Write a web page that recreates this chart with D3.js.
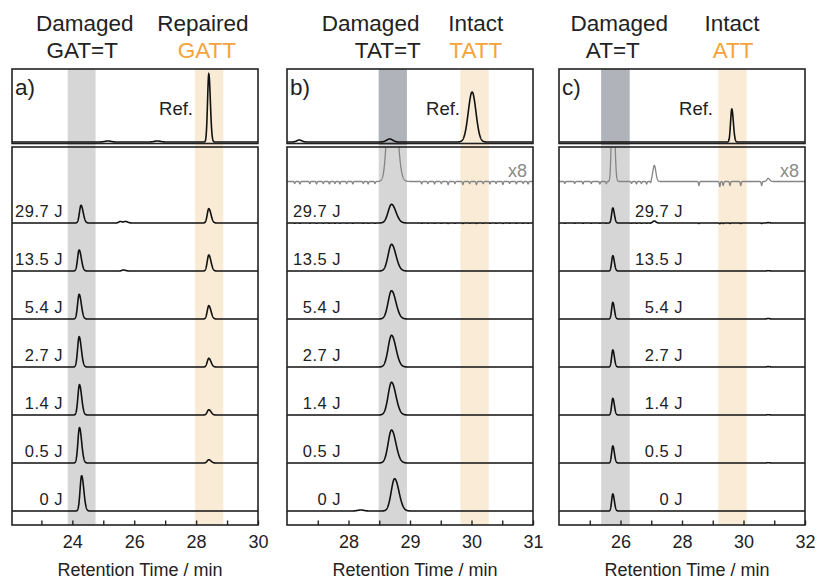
<!DOCTYPE html>
<html>
<head>
<meta charset="utf-8">
<script src="https://cdn.jsdelivr.net/npm/d3@7"></script>
<style>
body { margin: 0; background: #fff; }
text { font-family: Arial, "Liberation Sans", Helvetica, sans-serif; }
</style>
</head>
<body>
<div id="chart"></div>
<script>
var width = 819, height = 580;

// irradiation doses, top row to bottom row
var doses = ['29.7 J', '13.5 J', '5.4 J', '2.7 J', '1.4 J', '0.5 J', '0 J'];

var headTop = [['Damaged', 'Repaired'], ['Damaged', 'Intact'], ['Damaged', 'Intact']];
var headSeq = [['GAT=T', 'GATT'], ['TAT=T', 'TATT'], ['AT=T', 'ATT']];
var panelLetters = ['a)', 'b)', 'c)'];

// panel a : GAT=T -> GATT
var aDomain = [22.05, 30];
var aMajor = [24, 26, 28, 30], aMinor = [23, 25, 27, 29];
var aBandDamaged = [23.85, 24.75], aBandIntact = [27.96, 28.88];
var aDamagedRT = [24.28, 24.22, 24.22, 24.22, 24.23, 24.23, 24.3];
var aDamagedH = [17.7, 21, 24.7, 30.3, 30.3, 35.3, 35.3];
var aIntactRT = 28.41;
var aIntactH = [14.3, 16, 13.3, 8.7, 5.3, 3.3, 0];
var aRef = [[28.41, 68], [25.15, 1, 0.1, 0.1], [26.75, 1, 0.1, 0.1]];
var aExtra = [[[25.55, 1.5], [25.72, 1.5]], [[25.65, 1]], [], [], [], [], []];

// panel b : TAT=T (no repair)
var bDomain = [27, 31];
var bMajor = [28, 29, 30, 31], bMinor = [27.5, 28.5, 29.5, 30.5];
var bBandDamaged = [28.49, 28.95], bBandIntact = [29.82, 30.28];
var bDamagedRT = [28.7, 28.7, 28.7, 28.7, 28.7, 28.7, 28.75];
var bDamagedH = [18.7, 26.7, 28.3, 31.7, 32.7, 33, 32.3];
var bRef = [[30.01, 50, 0.062, 0.062], [27.2, 2, 0.04, 0.04], [28.67, 3, 0.05, 0.05]];
var bExtra = [[], [], [], [], [], [], [[28.2, 1, 0.05, 0.05]]];
// baseline dips of the 29.7 J run, read on the x8 trace
var bNoise = [[27.125, 2], [27.21, 2.5], [27.37, 2], [27.48, 2.5], [27.59, 2], [27.69, 2.5], [27.78, 2],
  [27.86, 2.5], [27.97, 2], [28.07, 2.5], [28.24, 2], [28.32, 2.5], [28.43, 2],
  [29.19, 2.5], [29.29, 2], [29.40, 2.5], [29.51, 2], [29.62, 3], [29.73, 2], [29.86, 3], [29.97, 2],
  [30.08, 3], [30.19, 2], [30.30, 2.5], [30.40, 2], [30.51, 3], [30.62, 2], [30.73, 2.5], [30.84, 2], [30.92, 2.5]];

// panel c : AT=T (no repair)
var cDomain = [24, 32];
var cMajor = [26, 28, 30, 32], cMinor = [25, 27, 29, 31];
var cBandDamaged = [25.37, 26.3], cBandIntact = [29.18, 30.1];
var cDamagedRT = [25.75, 25.75, 25.75, 25.75, 25.75, 25.75, 25.75];
var cDamagedH = [15, 15.3, 16.6, 17, 16.6, 17, 17];
var cRef = [[29.62, 33]];
var cExtra = [[[27.1, 2, 0.05, 0.05], [30.8, 0.4]], [[30.8, 0.3]], [[30.8, 0.5]], [[30.8, 0.4]], [[30.8, 0.3]], [[30.8, 0.3]], []];
var cNoise = [[24.19, 2], [24.51, 2], [24.78, 2.5], [25.05, 2], [25.33, 2.5], [25.54, 2],
  [26.36, 2], [26.52, 2.5], [26.68, 2], [26.85, 2.5], [26.98, 2],
  [28.55, 4], [29.23, 5], [29.34, 4], [29.56, 4], [29.91, 4], [30.59, 4]];

var x8Factor = 8;

var orange = '#f5a33a';

var svg = d3.select('#chart').append('svg')
  .attr('width', width)
  .attr('height', height);

var frameTop = 69, refBottom = 143.5, lowTop = 147, frameBottom = 525;
var refBase = 142, x8Base = 181.5;
var rowY = d3.scalePoint().domain(doses).range([223, 511]);

var panels = [
  {left: 12, right: 258, domain: aDomain, major: aMajor, minor: aMinor, bandD: aBandDamaged, bandI: aBandIntact,
    rt: aDamagedRT, h: aDamagedH, intactRT: aIntactRT, intactH: aIntactH, ref: aRef, extra: aExtra, noise: null,
    sl: 0.05, sr: 0.07, topGray: '#d6d6d6', labelX: 63, refX: 193, headX: [[24.4, 28.22], [24.32, 28.35]]},
  {left: 287, right: 533, domain: bDomain, major: bMajor, minor: bMinor, bandD: bBandDamaged, bandI: bBandIntact,
    rt: bDamagedRT, h: bDamagedH, intactRT: null, intactH: null, ref: bRef, extra: bExtra, noise: bNoise,
    sl: 0.055, sr: 0.07, topGray: '#b1b3ba', labelX: 341, refX: 460, headX: [[28.36, 30.07], [28.64, 30.07]]},
  {left: 559, right: 805, domain: cDomain, major: cMajor, minor: cMinor, bandD: cBandDamaged, bandI: cBandIntact,
    rt: cDamagedRT, h: cDamagedH, intactRT: null, intactH: null, ref: cRef, extra: cExtra, noise: cNoise,
    sl: 0.038, sr: 0.05, topGray: '#b1b3ba', labelX: 683, refX: 713, headX: [[25.96, 29.63], [25.75, 29.66]]}
];

function trace(domain, peaks, dips, sl, sr, scale) {
  var n = 1800, step = (domain[1] - domain[0]) / n;
  var ds = (domain[1] - domain[0]) / 246 * 0.45;
  return d3.range(n + 1).map(function(i) {
    var t = domain[0] + i * step, v = 0;
    peaks.forEach(function(pk) {
      var s = t < pk[0] ? (pk[2] || sl) : (pk[3] || sr);
      v += pk[1] * Math.exp(-(t - pk[0]) * (t - pk[0]) / (2 * s * s));
    });
    (dips || []).forEach(function(dp) {
      v -= dp[1] / x8Factor * Math.exp(-(t - dp[0]) * (t - dp[0]) / (2 * ds * ds));
    });
    return [t, v * (scale || 1)];
  });
}

panels.forEach(function(p, pi) {
  var x = d3.scaleLinear().domain(p.domain).range([p.left, p.right]);
  var g = svg.append('g');

  // highlight bands
  g.append('rect').attr('x', x(p.bandD[0])).attr('width', x(p.bandD[1]) - x(p.bandD[0]))
    .attr('y', frameTop).attr('height', refBottom + 1.7 - frameTop).attr('fill', p.topGray);
  g.append('rect').attr('x', x(p.bandD[0])).attr('width', x(p.bandD[1]) - x(p.bandD[0]))
    .attr('y', refBottom + 1.7).attr('height', frameBottom - refBottom - 1.7).attr('fill', '#d6d6d6');
  g.append('rect').attr('x', x(p.bandI[0])).attr('width', x(p.bandI[1]) - x(p.bandI[0]))
    .attr('y', frameTop).attr('height', frameBottom - frameTop).attr('fill', '#f9ebd5');

  // clips
  svg.append('clipPath').attr('id', 'top' + pi).append('rect')
    .attr('x', p.left).attr('y', frameTop).attr('width', p.right - p.left).attr('height', refBottom - frameTop);
  svg.append('clipPath').attr('id', 'low' + pi).append('rect')
    .attr('x', p.left).attr('y', lowTop).attr('width', p.right - p.left).attr('height', frameBottom - lowTop);

  // reference trace
  var yRef = d3.scaleLinear().domain([0, 70]).range([refBase, refBase - 70]);
  var lineRef = d3.line().x(function(d) { return x(d[0]); }).y(function(d) { return yRef(d[1]); });
  g.append('path').attr('clip-path', 'url(#top' + pi + ')')
    .attr('d', lineRef(trace(p.domain, p.ref, null, 0.04, 0.05)))
    .attr('fill', 'none').attr('stroke', '#111').attr('stroke-width', 1.6);

  // dose series
  var runs = doses.map(function(d, i) {
    var pk = [[p.rt[i], p.h[i]]];
    if (p.intactRT !== null && p.intactH[i] > 0) pk.push([p.intactRT, p.intactH[i]]);
    return pk.concat(p.extra[i]);
  });

  // x8 magnified copy of the 29.7 J run
  if (p.noise) {
    var y8 = d3.scaleLinear().domain([0, 48]).range([x8Base, x8Base - 48]);
    var line8 = d3.line().x(function(d) { return x(d[0]); }).y(function(d) { return y8(d[1]); });
    g.append('path').attr('clip-path', 'url(#low' + pi + ')')
      .attr('d', line8(trace(p.domain, runs[0], p.noise, p.sl, p.sr, x8Factor)))
      .attr('fill', 'none').attr('stroke', '#858585').attr('stroke-width', 1.3);
    g.append('text').attr('x', p.right - 6).attr('y', 177).attr('text-anchor', 'end')
      .attr('font-size', 18).attr('fill', '#8a8a8a').text('x8');
  }

  doses.forEach(function(d, i) {
    var base = rowY(d);
    var y = d3.scaleLinear().domain([0, 48]).range([base, base - 48]);
    var line = d3.line().x(function(v) { return x(v[0]); }).y(function(v) { return y(v[1]); });
    g.append('path').attr('clip-path', 'url(#low' + pi + ')')
      .attr('d', line(trace(p.domain, runs[i], i === 0 ? p.noise : null, p.sl, p.sr)))
      .attr('fill', 'none').attr('stroke', '#111').attr('stroke-width', 1.6);
    g.append('text').attr('x', p.labelX).attr('y', base - 6).attr('text-anchor', 'end')
      .attr('font-size', 16.5).attr('letter-spacing', 0.5).attr('fill', '#222').text(d);
  });

  // frames
  g.append('rect').attr('x', p.left).attr('y', frameTop).attr('width', p.right - p.left)
    .attr('height', refBottom - frameTop).attr('fill', 'none').attr('stroke', '#222').attr('stroke-width', 1.6);
  g.append('rect').attr('x', p.left).attr('y', lowTop).attr('width', p.right - p.left)
    .attr('height', frameBottom - lowTop).attr('fill', 'none').attr('stroke', '#222').attr('stroke-width', 1.6);

  // axis
  var axis = d3.axisBottom(x)
    .tickValues(p.major.concat(p.minor))
    .tickSize(-4.5)
    .tickPadding(10)
    .tickFormat(function(v) { return p.major.indexOf(v) >= 0 ? v : ''; });
  var ax = g.append('g').attr('transform', 'translate(0,' + frameBottom + ')').call(axis);
  ax.select('.domain').remove();
  ax.selectAll('line').attr('stroke', '#222').attr('stroke-width', 1.4);
  ax.selectAll('text').attr('font-size', 18).attr('fill', '#222')
    .style('font-family', 'Arial, "Liberation Sans", Helvetica, sans-serif');

  g.append('text').attr('x', (p.left + p.right) / 2 + 5).attr('y', 576).attr('text-anchor', 'middle')
    .attr('font-size', 18).attr('fill', '#222').text('Retention Time / min');

  // headers
  [0, 1].forEach(function(k) {
    g.append('text').attr('x', x(p.headX[0][k])).attr('y', 31).attr('text-anchor', 'middle')
      .attr('font-size', 22.5).attr('fill', '#222').text(headTop[pi][k]);
    g.append('text').attr('x', x(p.headX[1][k])).attr('y', 58).attr('text-anchor', 'middle')
      .attr('font-size', 22.5).attr('fill', k === 0 ? '#222' : orange).text(headSeq[pi][k]);
  });

  g.append('text').attr('x', p.left + 3).attr('y', 95).attr('font-size', 22.5).attr('fill', '#222')
    .text(panelLetters[pi]);
  g.append('text').attr('x', p.refX).attr('y', 114.5).attr('text-anchor', 'end')
    .attr('font-size', 18.5).attr('fill', '#222').text('Ref.');
});
</script>
</body>
</html>
